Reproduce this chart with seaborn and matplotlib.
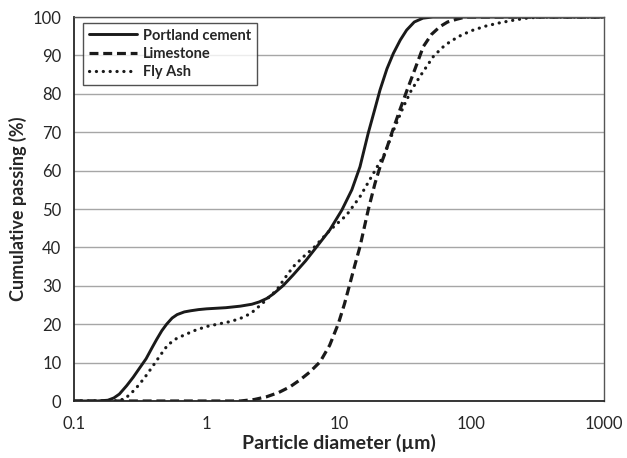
"""
Cumulative particle size distribution of the three powders
(Portland cement, limestone, fly ash), log-scale diameter axis.
"""

import numpy as np
import pandas as pd
import matplotlib
matplotlib.use('Agg')
import matplotlib.pyplot as plt
import seaborn as sns

# ============================================================================
# Data
# ============================================================================
cement_d = [0.1, 0.15, 0.18, 0.2, 0.22, 0.25, 0.28, 0.31, 0.35, 0.39, 0.42,
            0.46, 0.5, 0.55, 0.6, 0.68, 0.76, 0.87, 1.0, 1.4, 1.8, 2.2, 2.5,
            2.85, 3.2, 3.8, 4.5, 5.6, 6.8, 8.5, 10.5, 12.5, 14.4, 16.6, 18.5,
            20.4, 23, 25.7, 29, 32.4, 37, 43, 51, 1000]
cement_pass = [0, 0, 0.2, 0.8, 1.8, 4, 6.2, 8.4, 11, 14, 16,
               18.3, 20, 21.6, 22.5, 23.2, 23.5, 23.8, 24, 24.3, 24.7, 25.2,
               25.8, 26.7, 27.9, 30.1, 32.8, 36.5, 40.2, 44.5, 49.7, 55, 61,
               69.7, 75.6, 81, 86.5, 90.5, 94, 96.6, 98.7, 99.7, 100, 100]

limestone_d = [0.1, 1.0, 1.8, 2.3, 2.84, 3.5, 4.27, 5.08, 6.0, 7.2, 8.5, 9.9,
               11, 12.1, 13.2, 14.4, 16.6, 18.7, 20.5, 22.5, 25.5, 28.8, 32.5,
               36.4, 43.3, 50, 57.8, 66, 77, 90, 1000]
limestone_pass = [0, 0, 0, 0.4, 1.1, 2.2, 3.7, 5.5, 7.5, 10.2, 14.5, 20.2,
                  25.3, 30.6, 35.5, 40.2, 49.7, 56.7, 61.2, 65, 70.6, 75.8, 80.8,
                  85.3, 92.3, 95.5, 97.5, 98.7, 99.4, 100, 100]

flyash_d = [0.1, 0.2, 0.24, 0.27, 0.3, 0.34, 0.39, 0.45, 0.51, 0.59, 0.68,
            0.82, 1.0, 1.25, 1.52, 1.8, 2.16, 2.64, 3.39, 3.9, 4.52, 5.4, 6.4,
            8.55, 11.4, 14.4, 18.2, 22.2, 26, 30.6, 35, 40.8, 51.5, 60, 69,
            84, 103, 130, 164, 210, 261, 330, 1000]
flyash_pass = [0, 0, 0.5, 2.0, 3.7, 6.0, 8.9, 12.0, 14.6, 16.2, 17.2,
               18.4, 19.4, 20.1, 20.7, 21.5, 22.8, 25.4, 28.9, 32.0, 35, 37.6,
               39.8, 44.5, 48.4, 53.2, 59.3, 64.5, 70.8, 76.6, 80.8, 84.5, 89.7,
               92, 93.6, 95.3, 96.6, 97.7, 98.5, 99.2, 99.7, 100, 100]

x_ticks = [0.1, 1, 10, 100, 1000]
x_tick_labels = ['0.1', '1', '10', '100', '1000']
y_ticks = list(range(0, 101, 10))

SERIES = [
    ('Portland cement', cement_d, cement_pass),
    ('Limestone', limestone_d, limestone_pass),
    ('Fly Ash', flyash_d, flyash_pass),
]

# ============================================================================
# Plot
# ============================================================================
sns.set_style('white')
plt.rcParams['font.family'] = ['Lato', 'DejaVu Sans']

fig = plt.figure(figsize=(6.27, 4.58), dpi=100)
ax = fig.add_axes([74 / 627, 57 / 458, 530 / 627, 384 / 458])

for y in y_ticks:
    ax.axhline(y, color='#a6a6a6', lw=1.0, zorder=0)

styles = {
    'Portland cement': dict(linestyle='-', lw=2.1),
    'Limestone': dict(linestyle=(0, (2.8, 1.5)), lw=2.3),
    'Fly Ash': dict(linestyle=(0, (0.05, 2.1)), lw=2.3, dash_capstyle='round'),
}

for name, d, p in SERIES:
    df = pd.DataFrame({'d': d, 'p': p})
    sns.lineplot(data=df, x='d', y='p', ax=ax, color='#1a1a1a',
                 label=name, sort=False, **styles[name])

ax.set_xscale('log')
ax.set_xlim(0.1, 1000)
ax.set_ylim(0, 100)
ax.set_xticks(x_ticks)
ax.set_xticklabels(x_tick_labels)
ax.xaxis.set_minor_locator(matplotlib.ticker.NullLocator())
ax.set_yticks(y_ticks)

ax.tick_params(axis='both', direction='out', length=6, width=1,
               color='#333333', labelsize=12, labelcolor='#262626', pad=3)
ax.tick_params(axis='x', pad=5)

for side in ['left', 'bottom']:
    ax.spines[side].set_color('#262626')
    ax.spines[side].set_linewidth(1.3)
for side in ['top', 'right']:
    ax.spines[side].set_color('#555555')
    ax.spines[side].set_linewidth(1.0)

ax.set_xlabel('Particle diameter (µm)', fontsize=14, fontweight='bold',
              color='#262626', labelpad=1)
ax.set_ylabel('Cumulative passing (%)', fontsize=13, fontweight='bold',
              color='#262626', labelpad=4)

leg = ax.legend(loc='upper left', bbox_to_anchor=(0.017, 0.985),
                frameon=True, fancybox=False, fontsize=10.5,
                handlelength=3.3, handletextpad=0.4, borderpad=0.4,
                labelspacing=0.3, borderaxespad=0)
leg.get_frame().set_edgecolor('#262626')
leg.get_frame().set_linewidth(1.0)
for t in leg.get_texts():
    t.set_fontweight('bold')
    t.set_color('#262626')

fig.savefig('out.png', dpi=100, facecolor='white')
